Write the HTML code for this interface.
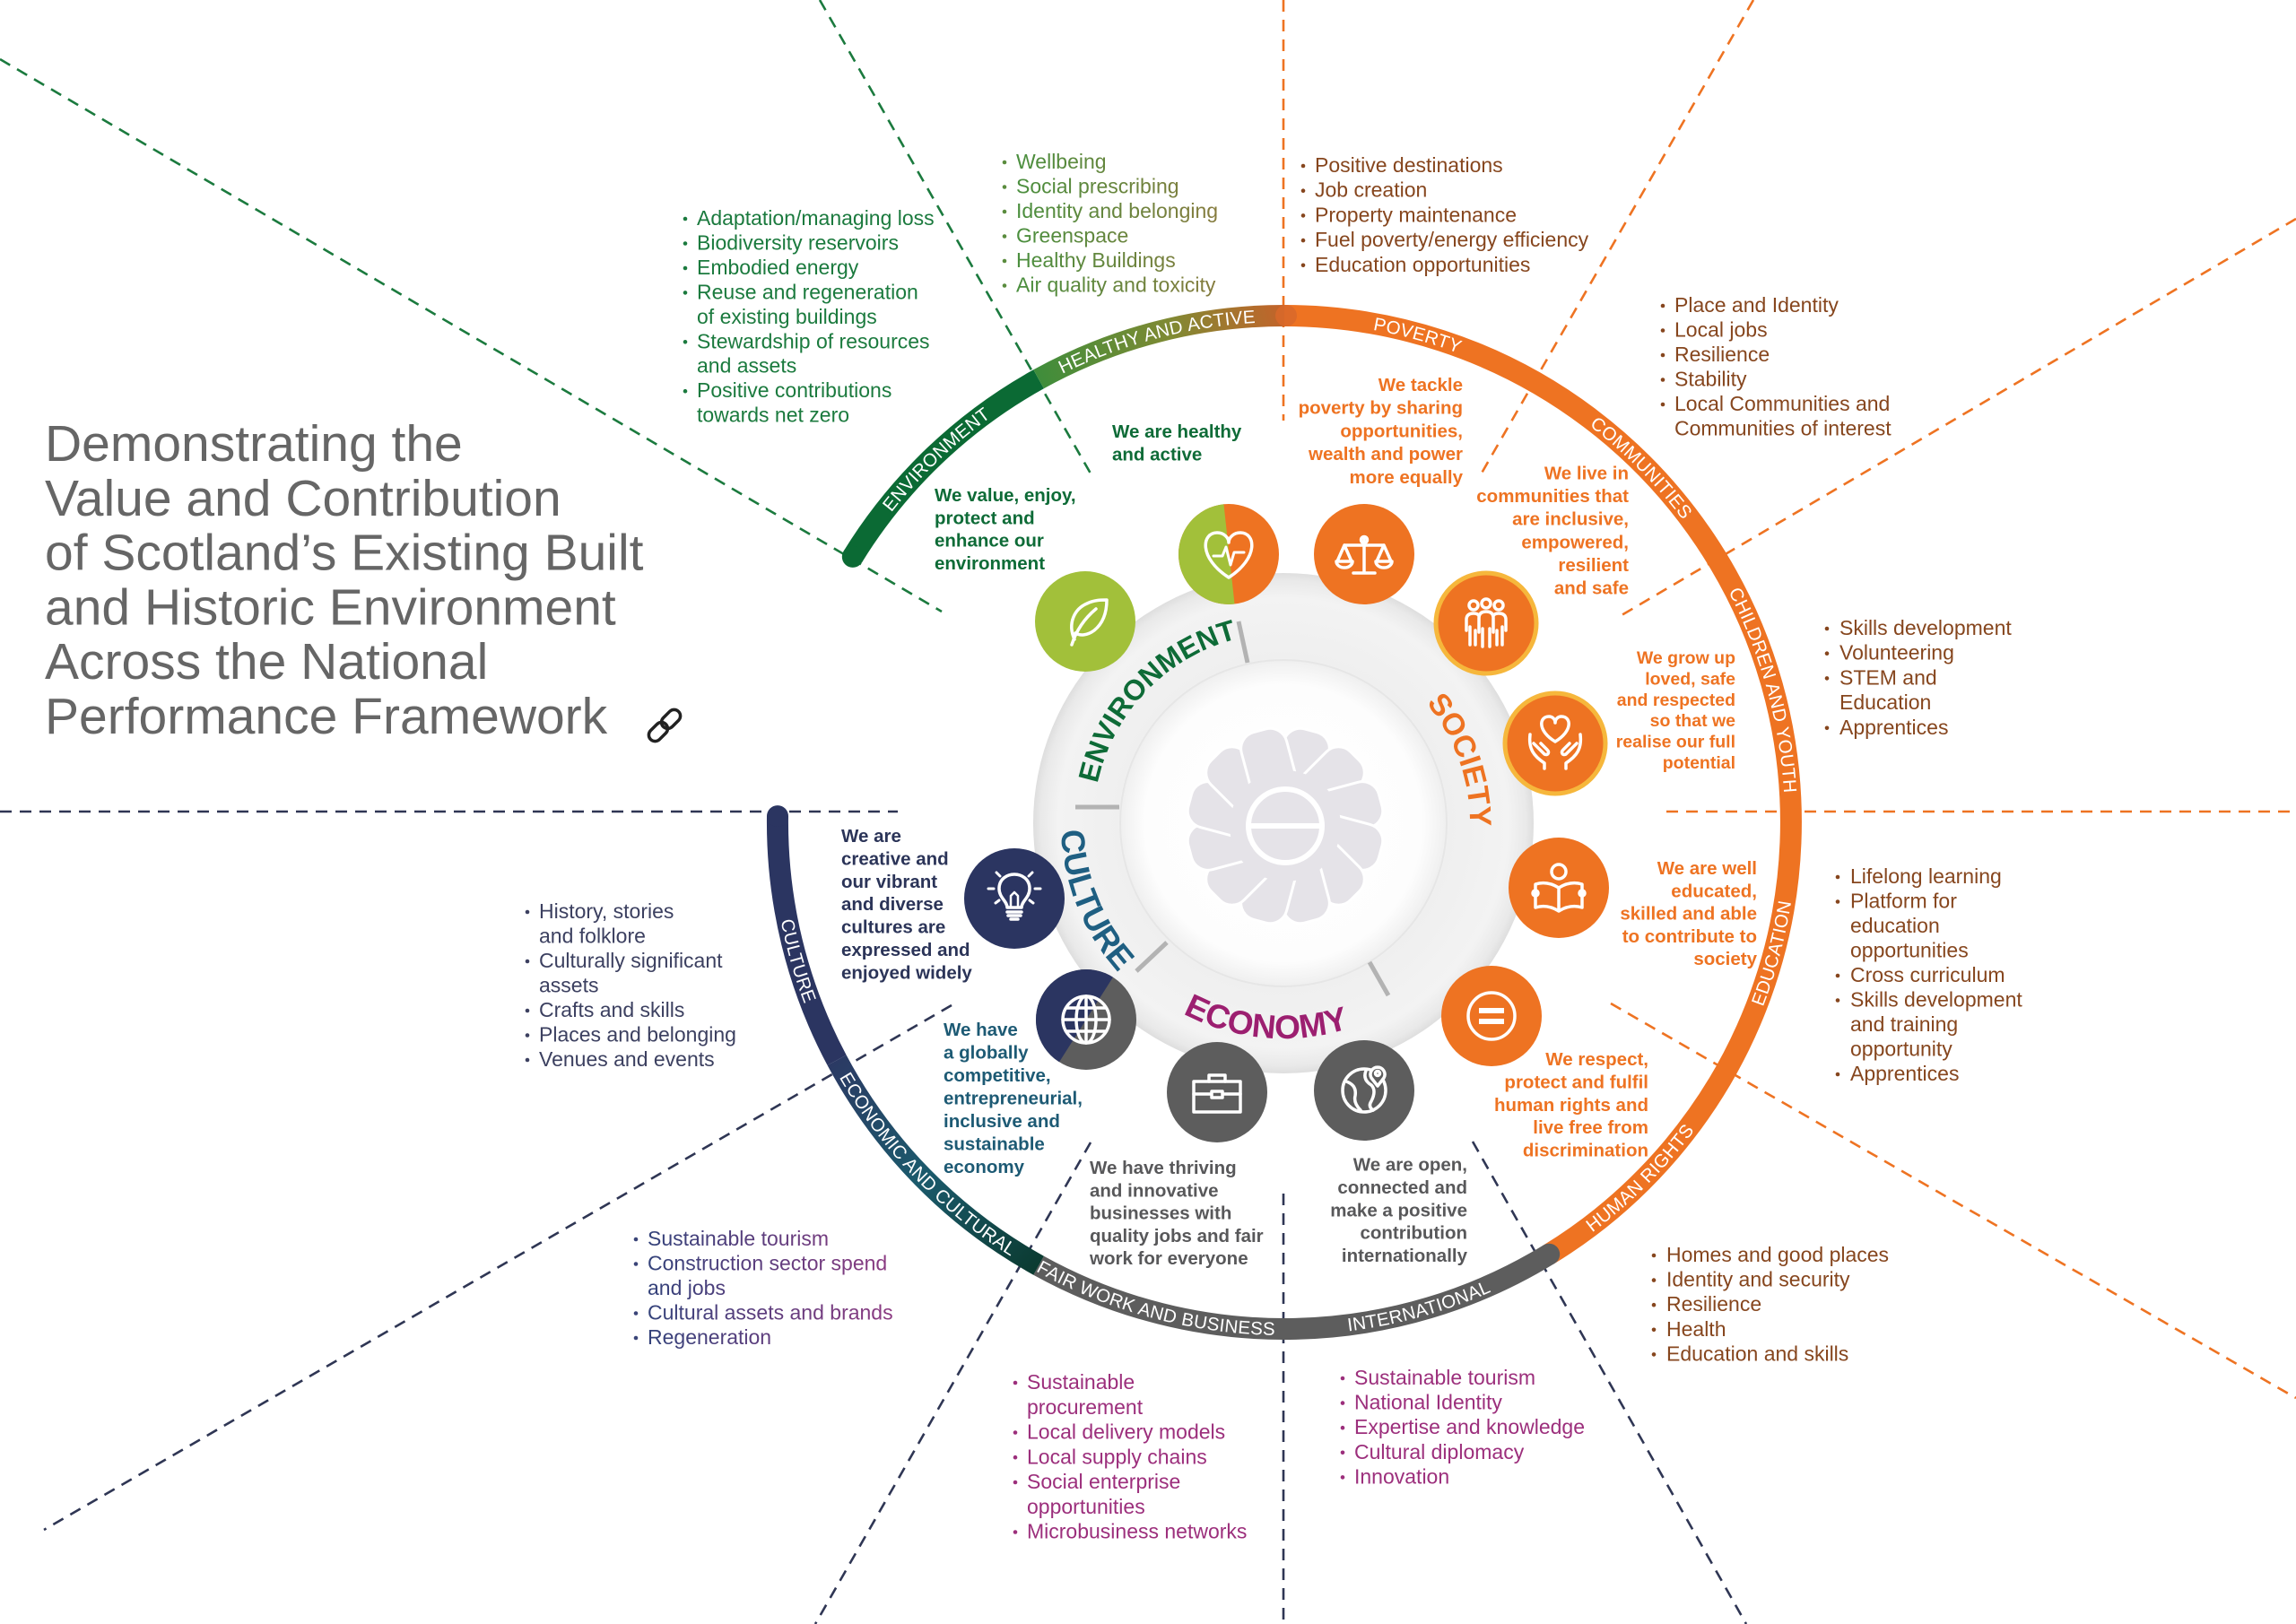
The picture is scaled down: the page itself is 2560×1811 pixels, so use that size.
<!DOCTYPE html>
<html>
<head>
<meta charset="utf-8">
<style>
html,body{margin:0;padding:0;background:#fff;}
body{width:2560px;height:1811px;overflow:hidden;}
svg{display:block;}
text{font-family:"Liberation Sans",Arial,sans-serif;}
.l{font-size:23px;}
.s{font-size:20.5px;font-weight:bold;}
.r{font-size:20.5px;fill:#fff;letter-spacing:0.3px;}
.sec{font-weight:bold;}
</style>
</head>
<body>
<svg width="2560" height="1811" viewBox="0 0 2560 1811" xmlns="http://www.w3.org/2000/svg">
<defs>
  <linearGradient id="gHealthy" gradientUnits="userSpaceOnUse" x1="1158" y1="423" x2="1432" y2="352">
    <stop offset="0" stop-color="#3f8d3b"/>
    <stop offset="0.55" stop-color="#7f8a33"/>
    <stop offset="1" stop-color="#c3632a"/>
  </linearGradient>
  <linearGradient id="gEcon" gradientUnits="userSpaceOnUse" x1="1158" y1="1411" x2="933" y2="1182">
    <stop offset="0" stop-color="#0b3b31"/>
    <stop offset="0.5" stop-color="#1b5a6c"/>
    <stop offset="1" stop-color="#2b3a64"/>
  </linearGradient>
  <linearGradient id="gHList" gradientUnits="userSpaceOnUse" x1="1133" y1="0" x2="1380" y2="0">
    <stop offset="0" stop-color="#4a8f3e"/>
    <stop offset="1" stop-color="#8c7a3e"/>
  </linearGradient>
  <linearGradient id="gEList" gradientUnits="userSpaceOnUse" x1="722" y1="0" x2="1000" y2="0">
    <stop offset="0" stop-color="#33427a"/>
    <stop offset="1" stop-color="#8e3a82"/>
  </linearGradient>
  <radialGradient id="gDisc" cx="0.5" cy="0.5" r="0.5">
    <stop offset="0" stop-color="#ffffff"/>
    <stop offset="0.6" stop-color="#ffffff"/>
    <stop offset="0.66" stop-color="#efefef"/>
    <stop offset="0.9" stop-color="#f3f3f3"/>
    <stop offset="0.97" stop-color="#e9e9e9"/>
    <stop offset="1" stop-color="#dedede"/>
  </radialGradient>
  <radialGradient id="gInner" cx="0.5" cy="0.5" r="0.5">
    <stop offset="0" stop-color="#ffffff"/>
    <stop offset="0.85" stop-color="#fdfdfd"/>
    <stop offset="1" stop-color="#efefef"/>
  </radialGradient>
  <clipPath id="cHeart"><circle cx="0" cy="0" r="56"/></clipPath>

  <path id="pEnv" d="M877.3,856.7 A558,558 0 0 1 1395.0,360.2"/>
  <path id="pHea" d="M976.0,595.4 A558,558 0 0 1 1669.6,412.1"/>
  <path id="pPov" d="M1198.8,410.1 A558,558 0 0 1 1890.8,599.3"/>
  <path id="pCom" d="M1482.6,361.3 A558,558 0 0 1 1988.0,870.3"/>
  <path id="pChi" d="M1748.9,457.7 A558,558 0 0 1 1939.4,1149.3"/>
  <path id="pEdu" d="M1760.1,1385.6 A572,572 0 0 0 1950.4,675.3"/>
  <path id="pHum" d="M1481.9,1486.8 A572,572 0 0 0 2001.8,966.9"/>
  <path id="pInt" d="M1194.8,1437.5 A572,572 0 0 0 1903.4,1241.0"/>
  <path id="pFai" d="M963.4,1245.1 A572,572 0 0 0 1673.7,1435.4"/>
  <path id="pEco" d="M861.3,954.9 A572,572 0 0 0 1370.2,1485.7"/>
  <path id="pCul" d="M909.9,683.4 A572,572 0 0 0 1111.3,1390.7"/>
  <path id="sEnv" d="M1220.2,940.2 A212,212 0 0 1 1445.8,706.5"/>
  <path id="sSoc" d="M1503.8,723.2 A208,208 0 0 1 1610.2,1023.6"/>
  <path id="sCul" d="M1212.0,801.6 A248,248 0 0 0 1354.4,1153.9"/>
  <path id="sEco" d="M1234.4,1055.7 A240,240 0 0 0 1600.7,1087.7"/>
</defs>

<rect width="2560" height="1811" fill="#fff"/>

<g fill="none" stroke-width="2.6" stroke-dasharray="13 9">
  <line x1="0" y1="66" x2="1050" y2="682" stroke="#1b7a3e"/>
  <line x1="914" y1="0" x2="1216" y2="528" stroke="#1b7a3e"/>
  <line x1="1431" y1="0" x2="1431" y2="469" stroke="#ee7322"/>
  <line x1="1955" y1="0" x2="1650" y2="531" stroke="#ee7322"/>
  <line x1="2560" y1="244" x2="1803" y2="689" stroke="#ee7322"/>
  <line x1="1858" y1="905" x2="2560" y2="905" stroke="#ee7322"/>
  <line x1="1796" y1="1119" x2="2560" y2="1559" stroke="#ee7322"/>
  <line x1="1642" y1="1273" x2="1947" y2="1811" stroke="#2f3654"/>
  <line x1="1431" y1="1331" x2="1431" y2="1811" stroke="#2f3654"/>
  <line x1="1216" y1="1274" x2="909" y2="1811" stroke="#2f3654"/>
  <line x1="1061" y1="1121" x2="49" y2="1706" stroke="#2f3654"/>
  <line x1="0" y1="905" x2="1001" y2="905" stroke="#2f3654"/>
</g>

<circle cx="1431" cy="918" r="279" fill="url(#gDisc)"/>
<circle cx="1431" cy="918" r="182" fill="url(#gInner)" stroke="#e6e6e6" stroke-width="2"/>

<g transform="translate(1433,921)" fill="#e5e3e8" stroke="#fff" stroke-width="3">
  <rect x="-26" y="-110" width="52" height="78" rx="19" transform="rotate(15)"/>
  <rect x="-26" y="-110" width="52" height="78" rx="19" transform="rotate(45)"/>
  <rect x="-26" y="-110" width="52" height="78" rx="19" transform="rotate(75)"/>
  <rect x="-26" y="-110" width="52" height="78" rx="19" transform="rotate(105)"/>
  <rect x="-26" y="-110" width="52" height="78" rx="19" transform="rotate(135)"/>
  <rect x="-26" y="-110" width="52" height="78" rx="19" transform="rotate(165)"/>
  <rect x="-26" y="-110" width="52" height="78" rx="19" transform="rotate(195)"/>
  <rect x="-26" y="-110" width="52" height="78" rx="19" transform="rotate(225)"/>
  <rect x="-26" y="-110" width="52" height="78" rx="19" transform="rotate(255)"/>
  <rect x="-26" y="-110" width="52" height="78" rx="19" transform="rotate(285)"/>
  <rect x="-26" y="-110" width="52" height="78" rx="19" transform="rotate(315)"/>
  <rect x="-26" y="-110" width="52" height="78" rx="19" transform="rotate(345)"/>
  <circle r="62" stroke="none"/>
  <circle r="41" stroke-width="6"/>
  <rect x="-41" y="-3" width="82" height="6" fill="#fff" stroke="none"/>
</g>

<g stroke="#b3b3b3" stroke-width="5">
  <line x1="1381" y1="693" x2="1391" y2="739"/>
  <line x1="1199" y1="900" x2="1248" y2="900"/>
  <line x1="1267" y1="1083" x2="1301" y2="1051"/>
  <line x1="1527" y1="1073" x2="1548" y2="1110"/>
</g>

<text class="sec" font-size="32" fill="#0e6b37"><textPath href="#sEnv" startOffset="50%" text-anchor="middle">ENVIRONMENT</textPath></text>
<text class="sec" font-size="34" fill="#ee7322"><textPath href="#sSoc" startOffset="50%" text-anchor="middle">SOCIETY</textPath></text>
<text class="sec" font-size="37" fill="#1f5f82"><textPath href="#sCul" startOffset="50%" text-anchor="middle">CULTURE</textPath></text>
<text class="sec" font-size="37" fill="#9c1f70"><textPath href="#sEco" startOffset="50%" text-anchor="middle">ECONOMY</textPath></text>

<g fill="none" stroke-width="24">
  <path d="M950.8,620.9 A565,565 0 0 1 1158.1,422.8" stroke="#0b6a34"/>
  <path d="M1158.1,422.8 A565,565 0 0 1 1432,352" stroke="url(#gHealthy)"/>
  <path d="M1432,352 A565,565 0 0 1 1727.2,1398.7" stroke="#ee7322"/>
  <path d="M1727.2,1398.7 A565,565 0 0 1 1158.1,1411.2" stroke="#5d5d5d"/>
  <path d="M1158.1,1411.2 A565,565 0 0 1 933.1,1182.3" stroke="url(#gEcon)"/>
  <path d="M933.1,1182.3 A565,565 0 0 1 867.0,910.1" stroke="#2b3561"/>
</g>
<circle cx="950.8" cy="620.9" r="12" fill="#0b6a34"/>
<circle cx="867.0" cy="910.1" r="12" fill="#2b3561"/>
<circle cx="1434" cy="352" r="12" fill="#d8692a" opacity="0.85"/>
<circle cx="1727.2" cy="1398.7" r="12" fill="#5d5d5d"/>

<text class="r"><textPath href="#pEnv" startOffset="50%" text-anchor="middle">ENVIRONMENT</textPath></text>
<text class="r"><textPath href="#pHea" startOffset="50%" text-anchor="middle">HEALTHY AND ACTIVE</textPath></text>
<text class="r"><textPath href="#pPov" startOffset="50%" text-anchor="middle">POVERTY</textPath></text>
<text class="r"><textPath href="#pCom" startOffset="50%" text-anchor="middle">COMMUNITIES</textPath></text>
<text class="r"><textPath href="#pChi" startOffset="50%" text-anchor="middle">CHILDREN AND YOUTH</textPath></text>
<text class="r"><textPath href="#pEdu" startOffset="50%" text-anchor="middle">EDUCATION</textPath></text>
<text class="r"><textPath href="#pHum" startOffset="50%" text-anchor="middle">HUMAN RIGHTS</textPath></text>
<text class="r"><textPath href="#pInt" startOffset="50%" text-anchor="middle">INTERNATIONAL</textPath></text>
<text class="r"><textPath href="#pFai" startOffset="50%" text-anchor="middle">FAIR WORK AND BUSINESS</textPath></text>
<text class="r"><textPath href="#pEco" startOffset="50%" text-anchor="middle">ECONOMIC AND CULTURAL</textPath></text>
<text class="r"><textPath href="#pCul" startOffset="50%" text-anchor="middle">CULTURE</textPath></text>

<g fill="none" stroke="#fff" stroke-width="3.5" stroke-linecap="round" stroke-linejoin="round">
  <g transform="translate(1210,693)">
    <circle r="56" fill="#a2c03a" stroke="none"/>
    <path d="M-12,20 C-20,2 -12,-14 2,-20 C10,-24 18,-24 24,-24 C24,-10 20,2 10,10 C2,16 -6,16 -11,13"/>
    <path d="M-15,26 C-10,10 0,-4 12,-14"/>
  </g>
  <g transform="translate(1370,618)">
    <circle r="56" fill="#ee7322" stroke="none"/>
    <polygon points="-60,-60 -6,-60 7,60 -60,60" fill="#a2c03a" stroke="none" clip-path="url(#cHeart)"/>
    <path d="M0,26 C-34,4 -30,-24 -13,-24 C-5,-24 0,-18 0,-13 C0,-18 5,-24 13,-24 C30,-24 34,4 0,26 Z"/>
    <path d="M-17,2 H-7 L-3,-8 L2,12 L6,-2 H17" stroke-width="3"/>
  </g>
  <g transform="translate(1521,618)">
    <circle r="56" fill="#ee7322" stroke="none"/>
    <path d="M0,-18 V20 M-12,21 H12 M-22,-10 H22 M-22,-10 L-30,8 M-22,-10 L-14,8 M22,-10 L14,8 M22,-10 L30,8 M-31,8 A9,7 0 0 0 -13,8 Z M13,8 A9,7 0 0 0 31,8 Z"/>
    <circle cx="0" cy="-16" r="3.5"/>
  </g>
  <g transform="translate(1657,695)">
    <circle r="56" fill="#ee7322" stroke="#f6b73c" stroke-width="5"/>
    <circle cx="-14" cy="-20" r="5"/><circle cx="0" cy="-22" r="5"/><circle cx="14" cy="-20" r="5"/>
    <path d="M-22,8 V-4 Q-22,-11 -14,-11 Q-9,-11 -8,-8"/>
    <path d="M22,8 V-4 Q22,-11 14,-11 Q9,-11 8,-8"/>
    <path d="M-8,10 V-6 Q-8,-13 0,-13 Q8,-13 8,-6 V10"/>
    <path d="M-4,6 V26 M4,6 V26 M-18,4 V24 M18,4 V24 M-12,8 V24 M12,8 V24"/>
  </g>
  <g transform="translate(1734,829)">
    <circle r="56" fill="#ee7322" stroke="#f6b73c" stroke-width="5"/>
    <path d="M0,-2 C-20,-14 -18,-30 -7,-30 C-3,-30 0,-27 0,-23 C0,-27 3,-30 7,-30 C18,-30 20,-14 0,-2 Z"/>
    <path d="M-28,-10 C-30,6 -24,14 -12,22 L-12,28 M-24,0 L-12,12 C-8,14 -6,10 -9,7 L-16,0"/>
    <path d="M28,-10 C30,6 24,14 12,22 L12,28 M24,0 L12,12 C8,14 6,10 9,7 L16,0"/>
  </g>
  <g transform="translate(1738,990)">
    <circle r="56" fill="#ee7322" stroke="none"/>
    <circle cx="0" cy="-18" r="8"/>
    <path d="M-26,-4 Q-13,-8 0,0 Q13,-8 26,-4 V22 Q13,18 0,26 Q-13,18 -26,22 Z M0,0 V26"/>
    <circle cx="-26" cy="6" r="3"/><circle cx="26" cy="6" r="3"/>
  </g>
  <g transform="translate(1663,1133)">
    <circle r="56" fill="#ee7322" stroke="none"/>
    <circle r="26"/>
    <rect x="-14" y="-9" width="28" height="6" fill="#fff" stroke="none"/>
    <rect x="-14" y="3" width="28" height="6" fill="#fff" stroke="none"/>
  </g>
  <g transform="translate(1521,1216)">
    <circle r="56" fill="#5d5d5d" stroke="none"/>
    <circle r="24"/>
    <path d="M-20,-10 Q-8,-6 -10,6 Q-12,14 -4,22 M2,-22 Q-2,-12 8,-6 Q14,0 8,12 Q4,18 10,22"/>
    <path d="M15,-5 L8,-14 A8,8 0 1 1 22,-14 Z" fill="#5d5d5d"/>
    <circle cx="15" cy="-19" r="2.5"/>
  </g>
  <g transform="translate(1357,1218)">
    <circle r="56" fill="#5d5d5d" stroke="none"/>
    <rect x="-26" y="-12" width="52" height="34"/>
    <path d="M-9,-12 V-19 H9 V-12 M-26,2 H26"/>
    <rect x="-6" y="-1" width="12" height="7" fill="#5d5d5d"/>
  </g>
  <g transform="translate(1211,1137)">
    <circle r="56" fill="#5d5d5d" stroke="none"/>
    <polygon points="-60,-60 38,-60 -38,60 -60,60" fill="#2b3561" stroke="none" clip-path="url(#cHeart)"/>
    <circle r="26"/>
    <ellipse rx="11" ry="26"/>
    <path d="M0,-26 V26 M-26,0 H26 M-22,-13 H22 M-22,13 H22"/>
  </g>
  <g transform="translate(1131,1002)">
    <circle r="56" fill="#2b3561" stroke="none"/>
    <path d="M-8,10 C-8,3 -17,-1 -17,-11 C-17,-22 -8,-27 0,-27 C8,-27 17,-22 17,-11 C17,-1 8,3 8,10 Z"/>
    <path d="M-8,15 H8 M-7,19 H7 M-4,23 H4"/>
    <path d="M-4,9 V-3 L0,-7 L4,-3 V9" stroke-width="2.5"/>
    <path d="M-29,-11 H-23 M23,-11 H29 M-20,-29 L-16,-25 M20,-29 L16,-25 M-21,5 L-17,2 M21,5 L17,2" stroke-width="3"/>
  </g>
</g>

<g class="l">
  <g fill="#1b7a3e">
    <text class="l" x="777" y="251"><tspan x="777">Adaptation/managing loss</tspan><tspan x="777" dy="27.45">Biodiversity reservoirs</tspan><tspan x="777" dy="27.45">Embodied energy</tspan><tspan x="777" dy="27.45">Reuse and regeneration</tspan><tspan x="777" dy="27.45">of existing buildings</tspan><tspan x="777" dy="27.45">Stewardship of resources</tspan><tspan x="777" dy="27.45">and assets</tspan><tspan x="777" dy="27.45">Positive contributions</tspan><tspan x="777" dy="27.45">towards net zero</tspan></text>
    <circle cx="764" cy="244" r="2.3"/><circle cx="764" cy="271.5" r="2.3"/><circle cx="764" cy="299" r="2.3"/><circle cx="764" cy="326.4" r="2.3"/><circle cx="764" cy="381.3" r="2.3"/><circle cx="764" cy="436.2" r="2.3"/>
  </g>
  <text class="l" x="1133" y="188" fill="url(#gHList)"><tspan x="1133">Wellbeing</tspan><tspan x="1133" dy="27.5">Social prescribing</tspan><tspan x="1133" dy="27.5">Identity and belonging</tspan><tspan x="1133" dy="27.5">Greenspace</tspan><tspan x="1133" dy="27.5">Healthy Buildings</tspan><tspan x="1133" dy="27.5">Air quality and toxicity</tspan></text>
  <g fill="#5a8c3e"><circle cx="1120" cy="181" r="2.3"/><circle cx="1120" cy="208.5" r="2.3"/><circle cx="1120" cy="236" r="2.3"/><circle cx="1120" cy="263.5" r="2.3"/><circle cx="1120" cy="291" r="2.3"/><circle cx="1120" cy="318.5" r="2.3"/></g>
  <g fill="#86461e">
    <text class="l" x="1466" y="192"><tspan x="1466">Positive destinations</tspan><tspan x="1466" dy="27.7">Job creation</tspan><tspan x="1466" dy="27.7">Property maintenance</tspan><tspan x="1466" dy="27.7">Fuel poverty/energy efficiency</tspan><tspan x="1466" dy="27.7">Education opportunities</tspan></text>
    <circle cx="1453" cy="185" r="2.3"/><circle cx="1453" cy="212.7" r="2.3"/><circle cx="1453" cy="240.4" r="2.3"/><circle cx="1453" cy="268.1" r="2.3"/><circle cx="1453" cy="295.8" r="2.3"/>
    <text class="l" x="1867" y="348"><tspan x="1867">Place and Identity</tspan><tspan x="1867" dy="27.5">Local jobs</tspan><tspan x="1867" dy="27.5">Resilience</tspan><tspan x="1867" dy="27.5">Stability</tspan><tspan x="1867" dy="27.5">Local Communities and</tspan><tspan x="1867" dy="27.5">Communities of interest</tspan></text>
    <circle cx="1854" cy="341" r="2.3"/><circle cx="1854" cy="368.5" r="2.3"/><circle cx="1854" cy="396" r="2.3"/><circle cx="1854" cy="423.5" r="2.3"/><circle cx="1854" cy="451" r="2.3"/>
    <text class="l" x="2051" y="708"><tspan x="2051">Skills development</tspan><tspan x="2051" dy="27.7">Volunteering</tspan><tspan x="2051" dy="27.7">STEM and</tspan><tspan x="2051" dy="27.7">Education</tspan><tspan x="2051" dy="27.7">Apprentices</tspan></text>
    <circle cx="2037" cy="701" r="2.3"/><circle cx="2037" cy="728.7" r="2.3"/><circle cx="2037" cy="756.4" r="2.3"/><circle cx="2037" cy="811.8" r="2.3"/>
    <text class="l" x="2063" y="985"><tspan x="2063">Lifelong learning</tspan><tspan x="2063" dy="27.5">Platform for</tspan><tspan x="2063" dy="27.5">education</tspan><tspan x="2063" dy="27.5">opportunities</tspan><tspan x="2063" dy="27.5">Cross curriculum</tspan><tspan x="2063" dy="27.5">Skills development</tspan><tspan x="2063" dy="27.5">and training</tspan><tspan x="2063" dy="27.5">opportunity</tspan><tspan x="2063" dy="27.5">Apprentices</tspan></text>
    <circle cx="2049" cy="978" r="2.3"/><circle cx="2049" cy="1005.5" r="2.3"/><circle cx="2049" cy="1088" r="2.3"/><circle cx="2049" cy="1115.5" r="2.3"/><circle cx="2049" cy="1198" r="2.3"/>
    <text class="l" x="1858" y="1407"><tspan x="1858">Homes and good places</tspan><tspan x="1858" dy="27.6">Identity and security</tspan><tspan x="1858" dy="27.6">Resilience</tspan><tspan x="1858" dy="27.6">Health</tspan><tspan x="1858" dy="27.6">Education and skills</tspan></text>
    <circle cx="1844" cy="1400" r="2.3"/><circle cx="1844" cy="1427.6" r="2.3"/><circle cx="1844" cy="1455.2" r="2.3"/><circle cx="1844" cy="1482.8" r="2.3"/><circle cx="1844" cy="1510.4" r="2.3"/>
  </g>
  <g fill="#9c2f7c">
    <text class="l" x="1510" y="1544"><tspan x="1510">Sustainable tourism</tspan><tspan x="1510" dy="27.6">National Identity</tspan><tspan x="1510" dy="27.6">Expertise and knowledge</tspan><tspan x="1510" dy="27.6">Cultural diplomacy</tspan><tspan x="1510" dy="27.6">Innovation</tspan></text>
    <circle cx="1497" cy="1537" r="2.3"/><circle cx="1497" cy="1564.6" r="2.3"/><circle cx="1497" cy="1592.2" r="2.3"/><circle cx="1497" cy="1619.8" r="2.3"/><circle cx="1497" cy="1647.4" r="2.3"/>
    <text class="l" x="1145" y="1549"><tspan x="1145">Sustainable</tspan><tspan x="1145" dy="27.75">procurement</tspan><tspan x="1145" dy="27.75">Local delivery models</tspan><tspan x="1145" dy="27.75">Local supply chains</tspan><tspan x="1145" dy="27.75">Social enterprise</tspan><tspan x="1145" dy="27.75">opportunities</tspan><tspan x="1145" dy="27.75">Microbusiness networks</tspan></text>
    <circle cx="1132" cy="1542" r="2.3"/><circle cx="1132" cy="1597.5" r="2.3"/><circle cx="1132" cy="1625.2" r="2.3"/><circle cx="1132" cy="1653" r="2.3"/><circle cx="1132" cy="1708.5" r="2.3"/>
  </g>
  <text class="l" x="722" y="1389" fill="url(#gEList)"><tspan x="722">Sustainable tourism</tspan><tspan x="722" dy="27.5">Construction sector spend</tspan><tspan x="722" dy="27.5">and jobs</tspan><tspan x="722" dy="27.5">Cultural assets and brands</tspan><tspan x="722" dy="27.5">Regeneration</tspan></text>
  <g fill="#3a4478"><circle cx="709" cy="1382" r="2.3"/><circle cx="709" cy="1409.5" r="2.3"/><circle cx="709" cy="1464.5" r="2.3"/><circle cx="709" cy="1492" r="2.3"/></g>
  <g fill="#3c4060">
    <text class="l" x="601" y="1024"><tspan x="601">History, stories</tspan><tspan x="601" dy="27.5">and folklore</tspan><tspan x="601" dy="27.5">Culturally significant</tspan><tspan x="601" dy="27.5">assets</tspan><tspan x="601" dy="27.5">Crafts and skills</tspan><tspan x="601" dy="27.5">Places and belonging</tspan><tspan x="601" dy="27.5">Venues and events</tspan></text>
    <circle cx="588" cy="1017" r="2.3"/><circle cx="588" cy="1072" r="2.3"/><circle cx="588" cy="1127" r="2.3"/><circle cx="588" cy="1154.5" r="2.3"/><circle cx="588" cy="1182" r="2.3"/>
  </g>
</g>

<text class="s" fill="#0e6b37" x="1240" y="488"><tspan x="1240">We are healthy</tspan><tspan x="1240" dy="25.5">and active</tspan></text>
<text class="s" fill="#0e6b37" x="1042" y="559"><tspan x="1042">We value, enjoy,</tspan><tspan x="1042" dy="25.3">protect and</tspan><tspan x="1042" dy="25.3">enhance our</tspan><tspan x="1042" dy="25.3">environment</tspan></text>
<g fill="#ee7322" text-anchor="end">
  <text class="s" x="1631" y="436"><tspan x="1631">We tackle</tspan><tspan x="1631" dy="25.7">poverty by sharing</tspan><tspan x="1631" dy="25.7">opportunities,</tspan><tspan x="1631" dy="25.7">wealth and power</tspan><tspan x="1631" dy="25.7">more equally</tspan></text>
  <text class="s" x="1816" y="534.5"><tspan x="1816">We live in</tspan><tspan x="1816" dy="25.6">communities that</tspan><tspan x="1816" dy="25.6">are inclusive,</tspan><tspan x="1816" dy="25.6">empowered,</tspan><tspan x="1816" dy="25.6">resilient</tspan><tspan x="1816" dy="25.6">and safe</tspan></text>
  <text class="s" style="font-size:19.5px" x="1935" y="740"><tspan x="1935">We grow up</tspan><tspan x="1935" dy="23.4">loved, safe</tspan><tspan x="1935" dy="23.4">and respected</tspan><tspan x="1935" dy="23.4">so that we</tspan><tspan x="1935" dy="23.4">realise our full</tspan><tspan x="1935" dy="23.4">potential</tspan></text>
  <text class="s" x="1959" y="975"><tspan x="1959">We are well</tspan><tspan x="1959" dy="25.3">educated,</tspan><tspan x="1959" dy="25.3">skilled and able</tspan><tspan x="1959" dy="25.3">to contribute to</tspan><tspan x="1959" dy="25.3">society</tspan></text>
  <text class="s" x="1838" y="1188"><tspan x="1838">We respect,</tspan><tspan x="1838" dy="25.4">protect and fulfil</tspan><tspan x="1838" dy="25.4">human rights and</tspan><tspan x="1838" dy="25.4">live free from</tspan><tspan x="1838" dy="25.4">discrimination</tspan></text>
</g>
<text class="s" fill="#58585a" text-anchor="end" x="1636" y="1305.5"><tspan x="1636">We are open,</tspan><tspan x="1636" dy="25.4">connected and</tspan><tspan x="1636" dy="25.4">make a positive</tspan><tspan x="1636" dy="25.4">contribution</tspan><tspan x="1636" dy="25.4">internationally</tspan></text>
<text class="s" fill="#58585a" x="1215" y="1309"><tspan x="1215">We have thriving</tspan><tspan x="1215" dy="25.3">and innovative</tspan><tspan x="1215" dy="25.3">businesses with</tspan><tspan x="1215" dy="25.3">quality jobs and fair</tspan><tspan x="1215" dy="25.3">work for everyone</tspan></text>
<text class="s" fill="#1d5a74" x="1052" y="1155"><tspan x="1052">We have</tspan><tspan x="1052" dy="25.5">a globally</tspan><tspan x="1052" dy="25.5">competitive,</tspan><tspan x="1052" dy="25.5">entrepreneurial,</tspan><tspan x="1052" dy="25.5">inclusive and</tspan><tspan x="1052" dy="25.5">sustainable</tspan><tspan x="1052" dy="25.5">economy</tspan></text>
<text class="s" fill="#2b3458" x="938" y="939"><tspan x="938">We are</tspan><tspan x="938" dy="25.4">creative and</tspan><tspan x="938" dy="25.4">our vibrant</tspan><tspan x="938" dy="25.4">and diverse</tspan><tspan x="938" dy="25.4">cultures are</tspan><tspan x="938" dy="25.4">expressed and</tspan><tspan x="938" dy="25.4">enjoyed widely</tspan></text>

<text x="50" y="514" font-size="57" fill="#666666"><tspan x="50">Demonstrating the</tspan><tspan x="50" dy="60.8">Value and Contribution</tspan><tspan x="50" dy="60.8">of Scotland’s Existing Built</tspan><tspan x="50" dy="60.8">and Historic Environment</tspan><tspan x="50" dy="60.8">Across the National</tspan><tspan x="50" dy="60.8">Performance Framework</tspan></text>
<g transform="translate(741,809) rotate(-45)" fill="none" stroke="#222" stroke-width="3.5">
  <rect x="-22" y="-7" width="24" height="14" rx="7"/>
  <rect x="-2" y="-7" width="24" height="14" rx="7"/>
</g>
</svg>
</body>
</html>
